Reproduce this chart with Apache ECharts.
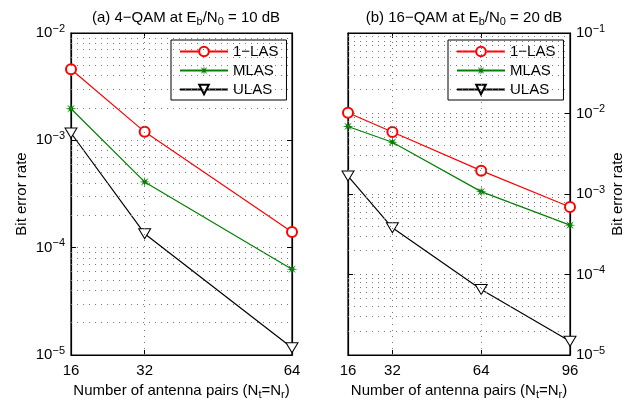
<!DOCTYPE html>
<html>
<head>
<meta charset="utf-8">
<script src="https://cdn.jsdelivr.net/npm/echarts@6/dist/echarts.min.js"></script>
<style>
  html, body { margin: 0; padding: 0; background: #fff; }
  #main { width: 641px; height: 405px; }
</style>
</head>
<body>
<div id="main"></div>
<script>
// panel (a) 4-QAM
const leftX = [16, 32, 64];
const left1LAS = [4.6e-3, 1.2e-3, 1.4e-4];
const leftMLAS = [1.97e-3, 4.1e-4, 6.3e-5];
const leftULAS = [1.17e-3, 1.35e-4, 1.17e-5];
// panel (b) 16-QAM
const rightX = [16, 32, 64, 96];
const right1LAS = [1.02e-2, 5.9e-3, 1.95e-3, 6.9e-4];
const rightMLAS = [6.9e-3, 4.4e-3, 1.07e-3, 4.1e-4];
const rightULAS = [1.67e-3, 3.8e-4, 6.5e-5, 1.48e-5];

const names = ["1\u2212LAS", "MLAS", "ULAS"];
const fontFam = "Liberation Sans, Arial, sans-serif";

// asterisk-like 8 point star
function starPath() {
  var pts = [];
  for (var i = 0; i < 16; i++) {
    var r = i % 2 === 0 ? 10 : 3.2;
    var a = Math.PI / 8 * i - Math.PI / 2;
    pts.push((10 + r * Math.cos(a)).toFixed(2) + "," + (10 + r * Math.sin(a)).toFixed(2));
  }
  return "path://M" + pts.join(" L") + " Z";
}
const triDown = "path://M0,0 L12,0 L6,10 Z";

function minorVals(lo, hi) {
  var out = [];
  for (var k = lo; k < hi; k++) {
    for (var m = 2; m <= 9; m++) out.push(m * Math.pow(10, k));
  }
  return out;
}

const dotted = { color: "#777", type: [1, 5], width: 1 };

function gridLines(xTicks, yMinor) {
  var d = [];
  xTicks.slice(1, -1).forEach(function (v) { d.push({ xAxis: v }); });
  yMinor.forEach(function (v) { d.push({ yAxis: v }); });
  return {
    silent: true, symbol: "none", label: { show: false }, precision: 20,
    lineStyle: dotted, animation: false, data: d
  };
}

function pair(x, y) { return x.map(function (v, i) { return [v, y[i]]; }); }

function makeSeries(idx, xs, a, b, c, minor) {
  return [
    {
      name: names[0], type: "line", xAxisIndex: idx, yAxisIndex: idx,
      data: pair(xs, a), symbol: "emptyCircle", symbolSize: 10,
      itemStyle: { color: "#ff0000", borderWidth: 1.2 },
      lineStyle: { color: "#ff0000", width: 1.2 },
      markLine: gridLines(xs, minor), z: 3
    },
    {
      name: names[1], type: "line", xAxisIndex: idx, yAxisIndex: idx,
      data: pair(xs, b), symbol: starPath(), symbolSize: 11,
      itemStyle: { color: "#008000" },
      lineStyle: { color: "#008000", width: 1.2 }, z: 3
    },
    {
      name: names[2], type: "line", xAxisIndex: idx, yAxisIndex: idx,
      data: pair(xs, c), symbol: triDown, symbolSize: [12, 10],
      itemStyle: { color: "#fff", borderColor: "#000", borderWidth: 1 },
      lineStyle: { color: "#000", width: 1.2 }, z: 3
    }
  ];
}

function yLabel(v) {
  return "10{sup|\u2212" + Math.round(-Math.log10(v)) + "}";
}

const axisText = { color: "#000", fontSize: 15, fontFamily: fontFam };
const supRich = { sup: { fontSize: 11, padding: [0, 0, 9, 0], fontFamily: fontFam, color: "#000" } };
const subRich = { sub: { fontSize: 11, padding: [7, 0, 0, 0], fontFamily: fontFam, color: "#000" } };

function xAxisOpt(idx, min, max, ticks) {
  return {
    type: "value", gridIndex: idx, min: min, max: max,
    axisLine: { lineStyle: { color: "#000", width: 1.2 } },
    axisTick: { inside: true, length: 5, customValues: ticks, lineStyle: { color: "#000" } },
    axisLabel: Object.assign({ customValues: ticks, margin: 8 }, axisText),
    splitLine: { show: false },
    name: "Number of antenna pairs (N{sub|t}=N{sub|r})",
    nameLocation: "middle", nameGap: 27,
    nameTextStyle: Object.assign({ rich: subRich }, axisText)
  };
}

function xTopOpt(idx, min, max, ticks) {
  return {
    type: "value", gridIndex: idx, min: min, max: max, position: "top",
    axisLine: { lineStyle: { color: "#000", width: 1.2 } },
    axisTick: { inside: true, length: 5, customValues: ticks, lineStyle: { color: "#000" } },
    axisLabel: { show: false }, splitLine: { show: false }
  };
}

function yAxisOpt(idx, min, max, pos) {
  return {
    type: "log", logBase: 10, gridIndex: idx, min: min, max: max,
    position: pos, splitNumber: Math.round(Math.log10(max / min)),
    axisLine: { show: true, lineStyle: { color: "#000", width: 1.2 } },
    axisTick: { show: true, inside: true, length: 5, lineStyle: { color: "#000" } },
    axisLabel: Object.assign({ formatter: yLabel, rich: supRich, margin: 6 }, axisText),
    splitLine: { show: true, lineStyle: dotted },
    name: "Bit error rate", nameLocation: "middle", nameRotate: 90,
    nameGap: pos === "left" ? 42 : 40,
    nameTextStyle: axisText
  };
}

function ySideOpt(idx, min, max, pos) {
  return {
    type: "log", logBase: 10, gridIndex: idx, min: min, max: max,
    position: pos, splitNumber: Math.round(Math.log10(max / min)),
    axisLine: { show: true, lineStyle: { color: "#000", width: 1.2 } },
    axisTick: { show: true, inside: true, length: 5, lineStyle: { color: "#000" } },
    axisLabel: { show: false }, splitLine: { show: false }
  };
}

const legendBase = {
  data: names, orient: "vertical", top: 40,
  padding: [4, 8, 3, 8], itemGap: 4,
  itemWidth: 48, itemHeight: 12,
  borderColor: "#000", borderWidth: 1, backgroundColor: "#fff",
  textStyle: axisText, selectedMode: false
};

const chart = echarts.init(document.getElementById("main"));
chart.setOption({
  animation: false,
  backgroundColor: "#fff",
  title: [
    {
      text: "(a) 4\u2212QAM at E{sub|b}/N{sub|0} = 10 dB",
      left: 181, top: 4, textAlign: "center",
      textStyle: Object.assign({ fontWeight: "normal", rich: subRich }, axisText)
    },
    {
      text: "(b) 16\u2212QAM at E{sub|b}/N{sub|0} = 20 dB",
      left: 459, top: 4, textAlign: "center",
      textStyle: Object.assign({ fontWeight: "normal", rich: subRich }, axisText)
    }
  ],
  legend: [
    Object.assign({ left: 171 }, legendBase),
    Object.assign({ left: 448 }, legendBase)
  ],
  grid: [
    { left: 71, top: 33, width: 221, height: 327, show: true, borderColor: "#000", borderWidth: 1.2 },
    { left: 348, top: 33, width: 222, height: 327, show: true, borderColor: "#000", borderWidth: 1.2 }
  ],
  xAxis: [
    xAxisOpt(0, 16, 64, leftX),
    xAxisOpt(1, 16, 96, rightX),
    xTopOpt(0, 16, 64, leftX),
    xTopOpt(1, 16, 96, rightX)
  ],
  yAxis: [
    yAxisOpt(0, 1e-5, 1e-2, "left"),
    yAxisOpt(1, 1e-5, 1e-1, "right"),
    ySideOpt(0, 1e-5, 1e-2, "right"),
    ySideOpt(1, 1e-5, 1e-1, "left")
  ],
  series: makeSeries(0, leftX, left1LAS, leftMLAS, leftULAS, minorVals(-5, -2))
    .concat(makeSeries(1, rightX, right1LAS, rightMLAS, rightULAS, minorVals(-5, -1)))
});
</script>
</body>
</html>
